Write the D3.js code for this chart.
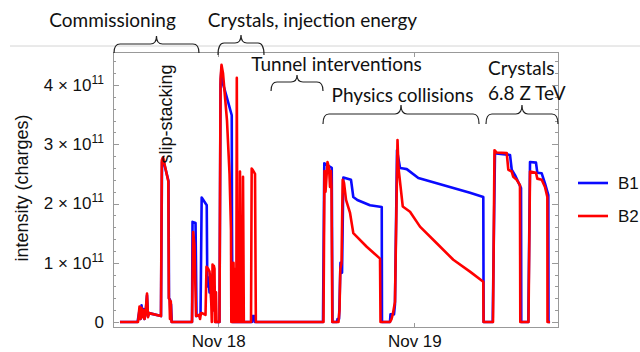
<!DOCTYPE html>
<html lang="en">
<head>
<meta charset="utf-8" />
<title>Beam intensity, Nov 17-19</title>
<script src="https://cdn.jsdelivr.net/npm/d3@7"></script>
<style>
  body, html { margin: 0; padding: 0; background: #fff; overflow: hidden; }
  svg { display: block; font-family: "Liberation Sans", Arial, sans-serif; }
  .axis path, .axis line { stroke: #999; shape-rendering: crispEdges; }
  .axis text { fill: #111; }
  .note { font-family: Lato, "Open Sans", sans-serif; font-size: 19px; fill: #111; }
  .brace { fill: none; stroke: #222; stroke-width: 1.2; }
</style>
</head>
<body>
<div id="chart"></div>
<script>
// hours since Nov 17 00:00, intensity in units of 1e11 charges
const b1Hours = [11.97, 14.12, 14.24, 14.36, 14.48, 14.61, 14.73, 14.85, 14.97, 15.10, 15.28, 15.40, 15.52,
  16.99, 17.05, 17.12, 17.24, 17.91, 17.97, 18.09, 18.16, 18.22, 18.31, 20.79, 20.85, 21.22, 21.34, 21.83,
  21.97, 22.59, 22.66, 22.81, 22.93, 23.05, 23.17, 23.30, 23.42, 23.54, 23.66, 24.15, 24.28, 24.40, 24.46,
  25.03, 25.65, 25.68, 25.74, 28.13, 28.17, 28.44, 28.47, 36.82, 36.98, 37.89, 37.98, 38.53, 38.60, 38.78,
  38.84, 38.96, 39.15, 39.31, 40.25, 40.53, 41.02, 42.57, 44.01, 44.04, 45.02, 45.08, 45.51, 45.63, 45.88,
  46.06, 46.25, 46.65, 47.07, 48.49, 50.74, 54.81, 56.44, 56.48, 57.59, 57.87, 58.28, 59.71, 59.92, 60.32,
  61.06, 61.09, 61.95, 62.16, 62.89, 63.05, 63.59, 63.99, 64.40, 64.42, 64.61];
const b1Values = [0, 0, 0.1, 0.2, 0.05, 0.28, 0.1, 0.22, 0.05, 0.15, 0.45, 0.1, 0.15,
  0.1, 1.43, 2.7, 2.75, 2.38, 0.4, 0.38, 0.05, 0.3, 0, 0, 1.69, 1.67, 0.1, 0.12,
  2.1, 1.97, 0.6, 0.75, 0.5, 0.8, 0.3, 0.7, 0.2, 0.6, 0, 0, 4.0, 4.3, 4.08,
  3.8, 3.49, 1.67, 0, 0, 0.1, 0.1, 0, 0, 2.68, 2.6, 0, 0, 0.05, 0.05,
  0.3, 1.0, 0.83, 2.44, 2.4, 2.11, 2.06, 1.97, 1.94, 0, 0, 0.13, 0.13, 0.3, 2.9,
  2.75, 2.6, 2.59, 2.58, 2.43, 2.34, 2.18, 2.11, 0, 0, 2.85, 2.84, 2.82, 2.57, 2.48,
  2.26, 0, 0, 2.7, 2.69, 2.52, 2.51, 2.34, 2.14, 0, 0];

const b2Hours = [11.97, 14.18, 14.36, 14.48, 14.61, 14.73, 14.85, 14.97, 15.10, 15.28, 15.40, 15.52, 16.99,
  17.09, 17.24, 17.89, 17.95, 18.03, 18.09, 18.19, 18.28, 20.79, 20.93, 21.09, 21.28, 21.64, 21.77, 21.89,
  22.01, 22.44, 22.56, 22.75, 22.93, 23.05, 23.15, 23.21, 23.30, 23.38, 23.46, 23.54, 23.60, 23.72, 23.79,
  24.15, 24.28, 24.40, 24.58, 25.07, 25.38, 25.56, 25.60, 25.68, 25.77, 25.87, 25.95, 26.03, 26.11, 26.21,
  26.27, 26.36, 26.48, 26.58, 26.66, 26.75, 26.85, 26.94, 27.03, 27.13, 28.01, 28.09, 28.25, 28.50, 28.60,
  36.88, 37.00, 37.13, 37.37, 37.56, 37.68, 37.78, 37.86, 37.96, 38.72, 38.84, 38.94, 39.09, 39.23, 39.39,
  39.64, 40.13, 40.53, 40.95, 42.17, 43.80, 43.86, 45.02, 45.21, 45.39, 45.63, 45.94, 46.06, 46.58, 47.47,
  48.69, 50.74, 52.77, 54.81, 56.44, 56.47, 57.63, 57.81, 58.08, 59.31, 59.50, 59.92, 60.11, 60.53, 60.93,
  60.97, 61.97, 62.16, 62.89, 63.05, 63.59, 63.99, 64.28, 64.30, 64.61];
const b2Values = [0, 0, 0.26, 0.05, 0.24, 0.08, 0.2, 0.05, 0.15, 0.48, 0.08, 0.15, 0.1,
  2.73, 2.78, 2.37, 0.4, 0.38, 0.05, 0.35, 0, 0, 1.52, 1.3, 0.1, 0.12, 0.05, 0.15,
  0.15, 0.12, 0.93, 0.9, 0.85, 0.6, 0.3, 0, 0.97, 0.2, 0.95, 0.9, 0, 0.5, 0,
  0, 4.1, 4.34, 4.2, 3.4, 2.5, 1.55, 0, 1.0, 0, 1.0, 0, 0.9, 0, 0,
  4.12, 0, 0.5, 0, 2.54, 0, 1.0, 0, 2.45, 0, 0, 2.59, 2.56, 2.5, 0,
  0, 2.55, 2.2, 2.7, 2.6, 2.28, 2.55, 2.3, 0, 0, 0.2, 0.9, 1.0, 2.4, 2.35,
  2.06, 1.84, 1.5, 1.44, 1.27, 1.07, 0, 0, 0.05, 0.15, 0.34, 3.07, 2.6, 1.95, 1.86,
  1.61, 1.33, 1.05, 0.85, 0.68, 0, 0, 2.9, 2.86, 2.85, 2.57, 2.54, 2.45, 2.4, 2.31,
  0, 0, 2.54, 2.52, 2.42, 2.4, 2.28, 2.11, 0, 0];

const seriesNames = ["B1", "B2"];
const seriesColors = ["#0a0aff", "#ff0000"];
const yTicks = [0, 1, 2, 3, 4];
const xTickHours = [24, 48];
const xTickLabels = ["Nov 18", "Nov 19"];
const phaseNames = ["Commissioning", "Crystals, injection energy", "Tunnel interventions", "Physics collisions", "Crystals\n6.8 Z TeV"];
const phaseStart = [11.24, 23.97, 30.46, 36.82, 56.77];
const phaseEnd = [21.64, 29.60, 36.82, 55.92, 65.58];

const width = 640, height = 352;
const plot = { left: 113, right: 558, top: 52.5, bottom: 327 };
const base = new Date(2022, 10, 17).getTime();
const toDate = h => new Date(base + h * 3600e3);

const svg = d3.select("#chart").append("svg")
  .attr("width", width).attr("height", height);

const x = d3.scaleTime()
  .domain([toDate(11.117), toDate(65.584)])
  .range([plot.left, plot.right]);
const y = d3.scaleLinear()
  .domain([-0.0844, 4.549])
  .range([plot.bottom, plot.top]);

// thin rule across the top
svg.append("line")
  .attr("x1", 10).attr("x2", width).attr("y1", 46).attr("y2", 46)
  .attr("stroke", "#d4d4d4").attr("stroke-width", 1);

// frame
svg.append("rect")
  .attr("x", plot.left).attr("y", plot.top)
  .attr("width", plot.right - plot.left).attr("height", plot.bottom - plot.top)
  .attr("fill", "#fff").attr("stroke", "#999").attr("stroke-width", 1)
  .attr("shape-rendering", "crispEdges");

const minor = d3.range(0.2, 4.55, 0.2).filter(v => Math.abs(v - Math.round(v)) > 0.01);

function addAxis(axis, tx, ty) {
  const g = svg.append("g").attr("class", "axis")
    .attr("transform", `translate(${tx},${ty})`)
    .call(axis)
    .attr("font-size", 17).attr("font-family", "Liberation Sans, Arial, sans-serif");
  g.select(".domain").remove();
  return g;
}

// y axes: major + minor ticks, left and right
const yLeft = addAxis(d3.axisLeft(y).tickValues(yTicks).tickSize(-6).tickPadding(9).tickFormat(""), plot.left, 0);
addAxis(d3.axisLeft(y).tickValues(minor).tickSize(-3).tickFormat(""), plot.left, 0);
addAxis(d3.axisRight(y).tickValues(yTicks).tickSize(-6).tickFormat(""), plot.right, 0);
addAxis(d3.axisRight(y).tickValues(minor).tickSize(-3).tickFormat(""), plot.right, 0);

yLeft.selectAll(".tick text").each(function (d) {
  const t = d3.select(this);
  if (d === 0) { t.text("0"); return; }
  t.append("tspan").text(d + " × 10");
  t.append("tspan").attr("dy", -7).attr("font-size", 12).text("11");
});

// x axes
const xVals = xTickHours.map(toDate);
addAxis(d3.axisBottom(x).tickValues(xVals).tickSize(-4).tickPadding(8)
  .tickFormat((d, i) => xTickLabels[i]), 0, plot.bottom);
addAxis(d3.axisTop(x).tickValues(xVals).tickSize(-4).tickFormat(""), 0, plot.top);

// y title
svg.append("text")
  .attr("transform", "rotate(-90)")
  .attr("x", -188).attr("y", 28)
  .attr("text-anchor", "middle")
  .attr("font-size", 18).attr("fill", "#111")
  .text("intensity (charges)");

// curves
const line = d3.line()
  .x(d => x(toDate(d[0])))
  .y(d => y(d[1]));

const series = [
  d3.zip(b1Hours, b1Values),
  d3.zip(b2Hours, b2Values)
];

svg.selectAll(".beam")
  .data(series)
  .enter().append("path")
  .attr("class", "beam")
  .attr("d", line)
  .attr("fill", "none")
  .attr("stroke", (d, i) => seriesColors[i])
  .attr("stroke-width", 2.6)
  .attr("stroke-linejoin", "round");

// slip-stacking label
svg.append("text")
  .attr("transform", "translate(172,114) rotate(-90)")
  .attr("text-anchor", "middle")
  .attr("font-size", 18).attr("fill", "#111")
  .text("slip-stacking");

// legend
const legend = svg.selectAll(".legend")
  .data(seriesNames)
  .enter().append("g")
  .attr("class", "legend")
  .attr("transform", (d, i) => `translate(578,${183 + i * 33})`);
legend.append("line")
  .attr("x1", 0).attr("x2", 30)
  .attr("stroke", (d, i) => seriesColors[i])
  .attr("stroke-width", 2.6);
legend.append("text")
  .attr("x", 40).attr("dy", "0.35em")
  .attr("font-size", 17).attr("fill", "#111")
  .text(d => d);

// phase braces and their labels
const braceY = [
  { bar: 44, tip: 53, cusp: 36 },
  { bar: 43, tip: 55, cusp: 35 },
  { bar: 82, tip: 91, cusp: 75 },
  { bar: 114, tip: 124, cusp: 105 },
  { bar: 114, tip: 124, cusp: 105 }
];
const labelPos = [
  { x: 112.5, y: 27, anchor: "middle" },
  { x: 312.5, y: 27, anchor: "middle" },
  { x: 336.5, y: 71, anchor: "middle" },
  { x: 402.5, y: 102, anchor: "middle" },
  { x: 488, y: 75, anchor: "start" }
];

function bracePath(x1, x2, b) {
  const xm = (x1 + x2) / 2;
  const r = Math.min(6, (x2 - x1) / 4);
  return `M${x1},${b.tip}Q${x1},${b.bar} ${x1 + r},${b.bar}L${xm - r},${b.bar}` +
    `Q${xm},${b.bar} ${xm},${b.cusp}Q${xm},${b.bar} ${xm + r},${b.bar}` +
    `L${x2 - r},${b.bar}Q${x2},${b.bar} ${x2},${b.tip}`;
}

phaseNames.forEach((name, i) => {
  svg.append("path")
    .attr("class", "brace")
    .attr("d", bracePath(x(toDate(phaseStart[i])), x(toDate(phaseEnd[i])), braceY[i]));
  const t = svg.append("text")
    .attr("class", "note")
    .attr("x", labelPos[i].x).attr("y", labelPos[i].y)
    .attr("text-anchor", labelPos[i].anchor);
  name.split("\n").forEach((part, j) => {
    t.append("tspan").attr("x", labelPos[i].x).attr("dy", j ? 25 : 0).text(part);
  });
});
</script>
</body>
</html>
